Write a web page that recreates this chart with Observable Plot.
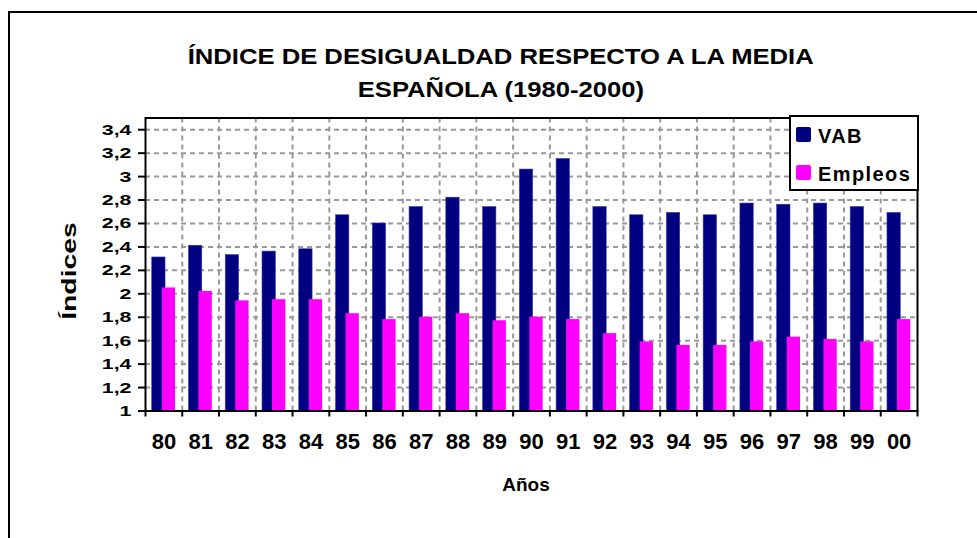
<!DOCTYPE html>
<html>
<head>
<meta charset="utf-8">
<script src="https://cdn.jsdelivr.net/npm/d3@7"></script>
<script src="https://cdn.jsdelivr.net/npm/@observablehq/plot@0.6"></script>
<style>
  html, body { margin: 0; padding: 0; background: #fff; }
  body { font-family: "Liberation Sans", Arial, sans-serif; }
  #wrap { position: relative; width: 977px; height: 538px; overflow: hidden; background: #fff; }
  #frame { position: absolute; left: 8px; top: 11px; width: 3000px; height: 3000px;
           border-left: 2px solid #000; border-top: 2px solid #000; }
  #title { position: absolute; left: 0; top: 40px; width: 1002px; text-align: center;
           font-weight: bold; font-size: 22px; line-height: 33px; color: #000; }
  #title span { display: inline-block; transform: scaleX(1.165); transform-origin: center; white-space: nowrap; }
  #chart { position: absolute; left: 0; top: 0; }
  #ylabel { position: absolute; left: 69px; top: 271px; width: 0; height: 0; }
  #ylabel span { position: absolute; left: 0; top: 0; white-space: nowrap; font-weight: bold; font-size: 21px;
                 transform: translate(-50%, -50%) rotate(-90deg) scaleX(1.35); }
  #xlabel { position: absolute; left: 426px; width: 200px; top: 475px; text-align: center;
            font-weight: bold; font-size: 19px; line-height: 20px; }
  #legend { position: absolute; left: 789px; top: 115px; width: 130px; height: 76px; box-sizing: border-box;
            border: 2px solid #000; background: #fff; }
  .sw { position: absolute; left: 5px; width: 15px; height: 15px; border-radius: 2px; }
  .lt { position: absolute; left: 27px; font-weight: bold; font-size: 20px; line-height: 20px; letter-spacing: 1.4px; white-space: nowrap; }
</style>
</head>
<body>
<div id="wrap">
  <div id="frame"></div>
  <div id="title"><span>ÍNDICE DE DESIGUALDAD RESPECTO A LA MEDIA</span><br><span>ESPAÑOLA (1980-2000)</span></div>
  <div id="chart"></div>
  <div id="ylabel"><span>Índices</span></div>
  <div id="xlabel">Años</div>
  <div id="legend">
    <div class="sw" style="top:10px;background:#000080"></div>
    <div class="lt" style="top:9px">VAB</div>
    <div class="sw" style="top:48px;background:#FF00FF"></div>
    <div class="lt" style="top:47px">Empleos</div>
  </div>
</div>
<script>
// ---- data ----
const years = ["80","81","82","83","84","85","86","87","88","89","90","91","92","93","94","95","96","97","98","99","00"];
const vab = [2.31, 2.41, 2.33, 2.36, 2.38, 2.67, 2.60, 2.74, 2.82, 2.74, 3.06, 3.15, 2.74, 2.67, 2.69, 2.67, 2.77, 2.76, 2.77, 2.74, 2.69];
const empleos = [2.05, 2.02, 1.94, 1.95, 1.95, 1.83, 1.78, 1.80, 1.83, 1.77, 1.80, 1.78, 1.66, 1.59, 1.56, 1.56, 1.59, 1.63, 1.61, 1.59, 1.78];
const yTicks = [1, 1.2, 1.4, 1.6, 1.8, 2, 2.2, 2.4, 2.6, 2.8, 3, 3.2, 3.4];
const seriesNames = ["VAB", "Empleos"];
const seriesColors = ["#000080", "#FF00FF"];

const rows = years.map((y, i) => ({year: y, vab: vab[i], emp: empleos[i]}));

const W = 977, H = 538;
const mL = 145, mR = 60, mT = 117.5, mB = 127.5;
const step = (W - mL - mR) / years.length;
const barW = step * 0.362;
const inset = (step - barW) / 2;
const barShift = step * 0.136;
const grid = "#999999";
const fmt = d => String(+d.toFixed(1)).replace(".", ",");

const plot = Plot.plot({
  width: W, height: H,
  marginLeft: mL, marginRight: mR, marginTop: mT, marginBottom: mB,
  style: {background: "transparent", fontFamily: "'Liberation Sans', Arial, sans-serif", color: "#000"},
  x: {type: "band", domain: years, padding: 0, round: false, label: null},
  y: {domain: [1, 3.5], label: null},
  marks: [
    Plot.gridY(yTicks.slice(1), {stroke: grid, strokeOpacity: 1, strokeWidth: 2, strokeDasharray: "5,4"}),
    Plot.ruleX(years.slice(1), {x: d => d, dx: -step / 2, stroke: grid, strokeWidth: 2, strokeDasharray: "5,4"}),
    Plot.barY(rows, {x: "year", y1: 1, y2: "vab", fill: seriesColors[0], dx: -barShift, insetLeft: inset, insetRight: inset, stroke: "#3a3aa8", strokeWidth: 0.6}),
    Plot.barY(rows, {x: "year", y1: 1, y2: "emp", fill: seriesColors[1], dx: barShift, insetLeft: inset, insetRight: inset}),
    Plot.frame({stroke: "#000", strokeWidth: 2}),
    Plot.axisY({ticks: yTicks, tickFormat: fmt, tickSize: 7, tickPadding: 7, fontSize: 15.5, fontWeight: "bold", strokeWidth: 2, label: null}),
    Plot.axisX({ticks: years, tickSize: 0, tickPadding: 22.5, fontSize: 22, fontWeight: "bold", label: null}),
    Plot.axisX({ticks: years, tickSize: 6, tickFormat: () => "", dx: -step / 2, strokeWidth: 2, label: null}),
    Plot.axisX({ticks: years.slice(-1), tickSize: 6, tickFormat: () => "", dx: step / 2, strokeWidth: 2, label: null})
  ]
});
document.getElementById("chart").appendChild(plot);

// widen the y tick labels horizontally like the original rendering
plot.querySelectorAll('g[aria-label="y-axis tick label"] text').forEach(t => {
  const len = t.getComputedTextLength();
  if (len > 0) {
    t.setAttribute("textLength", (len * 1.38).toFixed(2));
    t.setAttribute("lengthAdjust", "spacingAndGlyphs");
  }
});
</script>
</body>
</html>
